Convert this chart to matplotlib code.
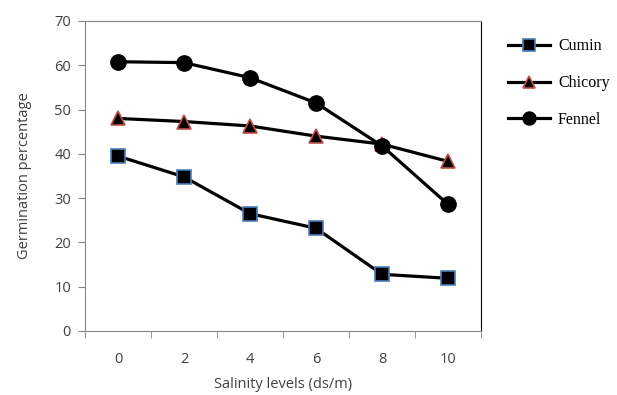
import matplotlib
matplotlib.use('Agg')
import matplotlib.pyplot as plt

salinity = ['0', '2', '4', '6', '8', '10']
cumin = [39.5, 34.8, 26.5, 23.2, 12.8, 11.9]
chicory = [48.0, 47.3, 46.3, 44.0, 42.2, 38.3]
fennel = [60.8, 60.6, 57.2, 51.5, 41.8, 28.6]

plt.rcParams['font.family'] = ['Open Sans', 'DejaVu Sans']

fig = plt.figure(figsize=(6.17, 3.95), dpi=100)
ax = fig.add_axes([85/617, 64/395, 396/617, 310/395])

x = list(range(len(salinity)))
ax.plot(x, cumin, color='black', lw=2.3, marker='s', ms=10,
        mfc='black', mec='#4a7ebb', mew=1.2, label='Cumin')
ax.plot(x, chicory, color='black', lw=2.3, marker='^', ms=10.5,
        mfc='black', mec='#c0504d', mew=1.2, label='Chicory')
ax.plot(x, fennel, color='black', lw=2.3, marker='o', ms=11,
        mfc='black', mec='black', label='Fennel')

ax.set_xlim(-0.5, 5.5)
ax.set_ylim(0, 70)
ax.set_yticks(range(0, 71, 10))
ax.set_xticks(x)
ax.set_xticklabels(salinity)
ax.set_xticks([i - 0.5 for i in range(7)], minor=True)
ax.tick_params(axis='x', which='major', length=0, pad=15, labelsize=10.5, colors='#404040')
ax.tick_params(axis='x', which='minor', length=5, color='#868686', direction='out')
ax.tick_params(axis='y', length=5, color='#868686', labelsize=10.5, labelcolor='#404040', pad=5)

for s in ['left', 'bottom', 'top']:
    ax.spines[s].set_color('#868686')
ax.spines['right'].set_color('black')

ax.set_xlabel('Salinity levels (ds/m)', fontsize=10.5, color='#404040', labelpad=7)
ax.set_ylabel('Germination percentage', fontsize=10.5, color='#404040', labelpad=16)

fig.legend(loc='upper left', bbox_to_anchor=(494/617, 1 - 24/395), frameon=False,
           prop={'family': 'Liberation Serif', 'size': 11.5}, handlelength=2.6,
           labelspacing=1.3, markerscale=0.85, handletextpad=0.5)

fig.savefig('out.png', dpi=100)
